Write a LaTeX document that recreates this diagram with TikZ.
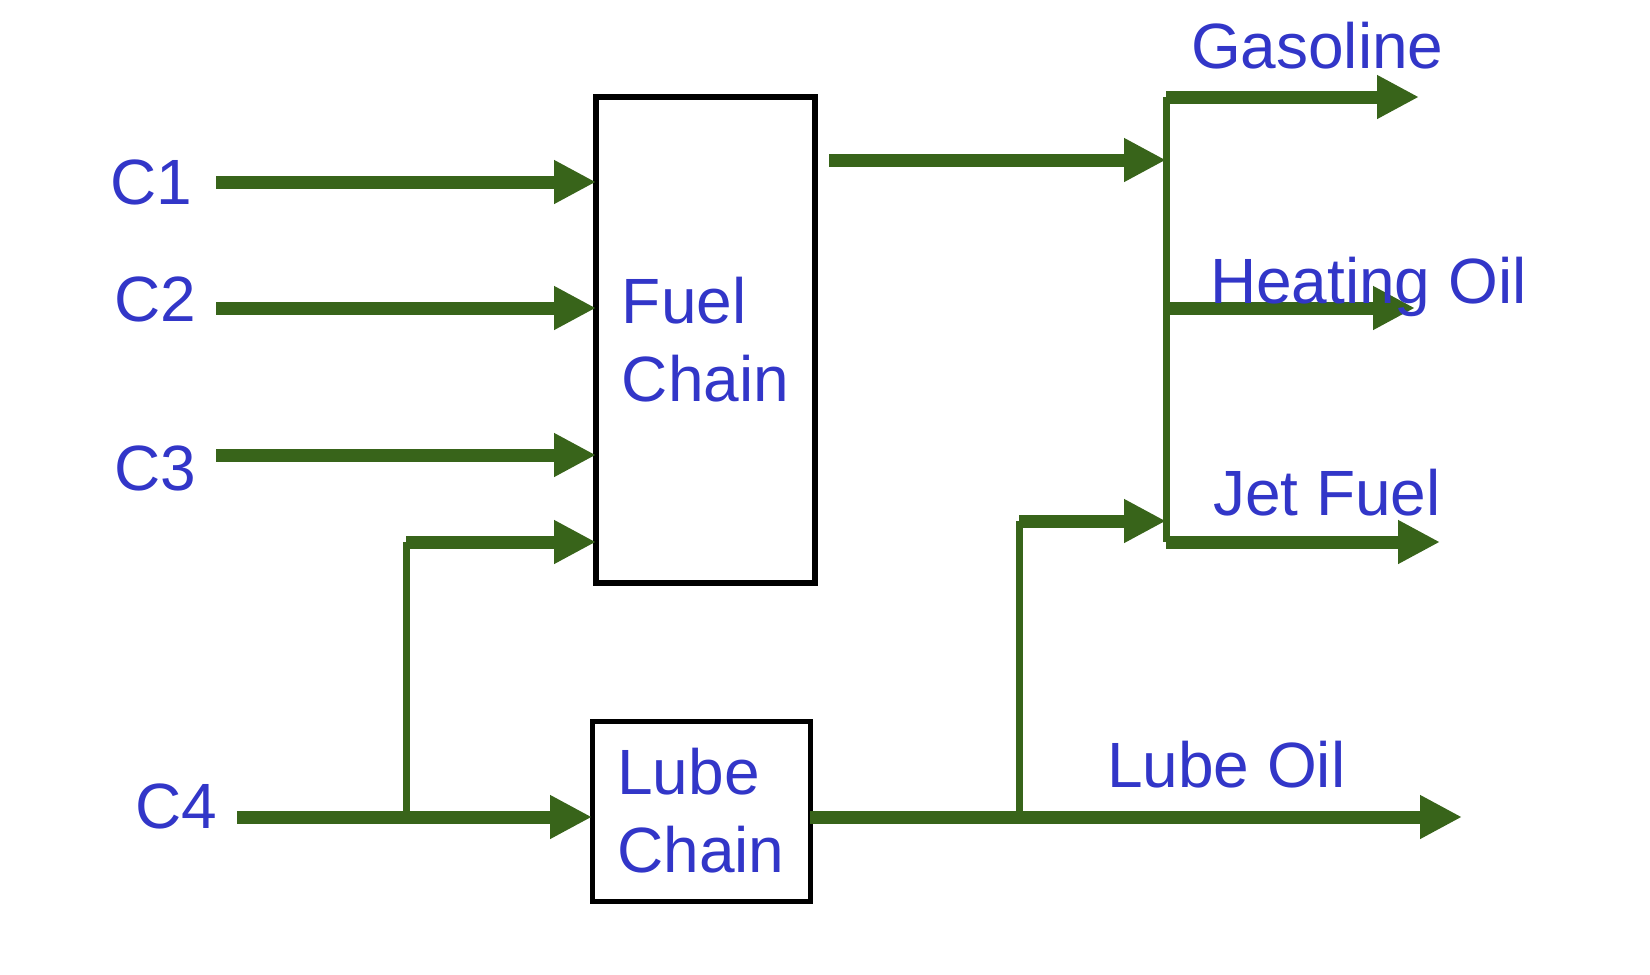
\documentclass[tikz,border=0pt]{standalone}
\usepackage{fontspec}
\setmainfont{Liberation Sans}
\usepackage{xcolor}
\usepackage{tikz}
\usetikzlibrary{arrows.meta}
\usetikzlibrary{positioning}
\definecolor{flowgreen}{RGB}{56,100,26}
\definecolor{flowblue}{RGB}{50,54,200}

\begin{document}
\begin{tikzpicture}
  [x=0.5pt,y=-0.5pt,
  every node/.style={inner sep=0pt,outer sep=0pt,text=flowblue,
    font=\fontsize{32}{39}\selectfont},
  unitbox/.style={draw=black,line width=3pt,align=left},
  flow/.style={draw=flowgreen,line width=6.5pt},
  tap/.style={draw=flowgreen,line width=3.5pt},
  >={Triangle[length=21pt,width=20.5pt]}]

\useasboundingbox (0,0) rectangle (1650,975);

\node[unitbox,minimum width=109.5pt,minimum height=243pt] (fuel) at (705.5,340) {Fuel\\Chain};
\node[unitbox,line width=2.5pt,minimum width=109pt,minimum height=90pt] (lube) at (701,811) {Lube\\Chain};

\coordinate (s1) at (216,182);
\coordinate (s2) at (216,308);
\coordinate (s3) at (216,455);
\coordinate (s4) at (237,817);
\coordinate (fork) at (406,817);
\coordinate (forktop) at (406,542);
\coordinate (fuelout) at (829,160);
\coordinate (split) at (1166,97);
\coordinate (splitend) at (1166,542);
\coordinate (lubefork) at (1019,817);
\coordinate (lubeforktop) at (1019,521);
\coordinate (gasend) at (1419,97);
\coordinate (heatend) at (1415,308);
\coordinate (jetend) at (1440,542);
\coordinate (lubeend) at (1462,817);

\draw[flow,->] (s1) -- (s1 -| fuel.west);
\draw[flow,->] (s2) -- (s2 -| fuel.west);
\draw[flow,->] (s3) -- (s3 -| fuel.west);
\draw[flow,->] (s4) -- (s4 -| lube.west);
\draw[tap] (fork) -- (forktop);
\draw[flow,->] (forktop) -- (forktop -| fuel.west);
\draw[flow,->] (fuelout) -- (fuelout -| split);
\draw[tap] (split) -- (splitend);
\draw[flow,->] (lube.east |- lubefork) -- (lubeend);
\draw[tap] (lubefork) -- (lubeforktop);
\draw[flow,->] (lubeforktop) -- (lubeforktop -| split);
\draw[flow,->] (split) -- (gasend);
\draw[flow,->] (split |- heatend) -- (heatend);
\draw[flow,->] (splitend) -- (jetend);

\node[anchor=base west] (c1) at (110,204) {C1};
\node[anchor=base west] (c2) at (114,321) {C2};
\node[anchor=base west] (c3) at (114,490) {C3};
\node[anchor=base west] (c4) at (135,828) {C4};
\node[anchor=base west] (gasoline) at (1191,68) {Gasoline};
\node[anchor=base west] (heating) at (1210,303) {Heating Oil};
\node[anchor=base west] (jet) at (1213,515) {Jet Fuel};
\node[anchor=base west] (lubeoil) at (1107,787) {Lube Oil};
\end{tikzpicture}
\end{document}
